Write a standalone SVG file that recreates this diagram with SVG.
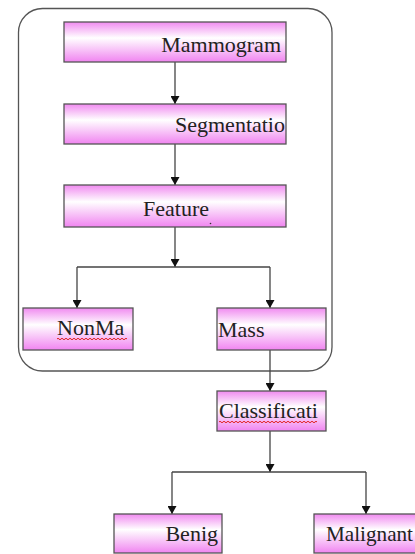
<svg xmlns="http://www.w3.org/2000/svg" width="415" height="554" viewBox="0 0 415 554">
  <defs>
    <linearGradient id="pinkBand" x1="0" y1="0" x2="0" y2="1">
      <stop offset="0" stop-color="#f08af0"/>
      <stop offset="0.4" stop-color="#ffffff"/>
      <stop offset="1" stop-color="#f084f0"/>
    </linearGradient>
    <marker id="arrow" markerWidth="8" markerHeight="9" refX="8" refY="4.5" orient="auto" markerUnits="userSpaceOnUse">
      <path d="M0,0 L8,4.5 L0,9 Z" fill="#111"/>
    </marker>
  </defs>
  <style>
    .box { fill: url(#pinkBand); stroke: #555; stroke-width: 1.3; }
    .frame { fill: none; stroke: #555; stroke-width: 1.3; }
    .lbl { font-family: "Liberation Serif", "Times New Roman", serif; font-size: 22px; fill: #222; }
    .wire { fill: none; stroke: #444; stroke-width: 1.3; }
    .arr { marker-end: url(#arrow); }
    .squiggle { fill: none; stroke: #e02020; stroke-width: 1; }
  </style>

  <rect width="415" height="554" fill="#ffffff"/>

  <!-- enclosing rounded frame -->
  <rect class="frame" x="18.5" y="8.5" width="313.5" height="362.5" rx="24" ry="24"/>

  <!-- connectors -->
  <g id="connectors">
    <line class="wire arr" x1="175" y1="62" x2="175" y2="104"/>
    <line class="wire arr" x1="175" y1="144" x2="175" y2="185"/>
    <line class="wire arr" x1="175" y1="227" x2="175" y2="267"/>
    <line class="wire" x1="77" y1="267" x2="270" y2="267"/>
    <line class="wire arr" x1="77" y1="267" x2="77" y2="308"/>
    <line class="wire arr" x1="270" y1="267" x2="270" y2="308"/>
    <line class="wire arr" x1="270" y1="350" x2="270" y2="391"/>
    <line class="wire arr" x1="270" y1="431" x2="270" y2="472"/>
    <line class="wire" x1="172" y1="472" x2="366" y2="472"/>
    <line class="wire arr" x1="172" y1="472" x2="172" y2="514"/>
    <line class="wire arr" x1="366" y1="472" x2="366" y2="514"/>
  </g>

  <g id="mammogram">
    <rect class="box" x="64" y="22" width="222" height="40"/>
    <text class="lbl" x="281" y="52" text-anchor="end">Mammogram</text>
  </g>

  <g id="segmentation">
    <rect class="box" x="64" y="104" width="222" height="40"/>
    <text class="lbl" x="175" y="132">Segmentatio</text>
  </g>

  <g id="feature">
    <rect class="box" x="64" y="185" width="222" height="42"/>
    <text class="lbl" x="143" y="216">Feature</text>
    <circle cx="210.5" cy="223.5" r="0.8" fill="#333"/>
  </g>

  <g id="nonmass">
    <rect class="box" x="23" y="308" width="110" height="42"/>
    <text class="lbl" x="57" y="335">NonMa</text>
    <path class="squiggle" d="M57,339 q1,-1.5 2,0 t2,0 t2,0 t2,0 t2,0 t2,0 t2,0 t2,0 t2,0 t2,0 t2,0 t2,0 t2,0 t2,0 t2,0 t2,0 t2,0 t2,0 t2,0 t2,0 t2,0 t2,0 t2,0 t2,0 t2,0 t2,0 t2,0 t2,0 t2,0 t2,0 t2,0 t2,0 t2,0 t2,0 t2,0"/>
  </g>

  <g id="mass">
    <rect class="box" x="217" y="308" width="109" height="42"/>
    <text class="lbl" x="218" y="336.5">Mass</text>
  </g>

  <g id="classification">
    <rect class="box" x="217" y="391" width="109" height="40"/>
    <text class="lbl" x="219" y="418">Classificati</text>
    <path class="squiggle" d="M219,422 q1,-1.5 2,0 t2,0 t2,0 t2,0 t2,0 t2,0 t2,0 t2,0 t2,0 t2,0 t2,0 t2,0 t2,0 t2,0 t2,0 t2,0 t2,0 t2,0 t2,0 t2,0 t2,0 t2,0 t2,0 t2,0 t2,0 t2,0 t2,0 t2,0 t2,0 t2,0 t2,0 t2,0 t2,0 t2,0 t2,0 t2,0 t2,0 t2,0 t2,0 t2,0 t2,0 t2,0 t2,0 t2,0 t2,0 t2,0 t2,0 t2,0 t2,0"/>
  </g>

  <g id="benign">
    <rect class="box" x="114" y="514" width="108" height="39"/>
    <text class="lbl" x="218" y="541" text-anchor="end">Benig</text>
  </g>

  <g id="malignant">
    <rect class="box" x="314" y="514" width="110" height="39"/>
    <text class="lbl" x="326" y="541" textLength="87" lengthAdjust="spacingAndGlyphs">Malignant</text>
  </g>
</svg>
